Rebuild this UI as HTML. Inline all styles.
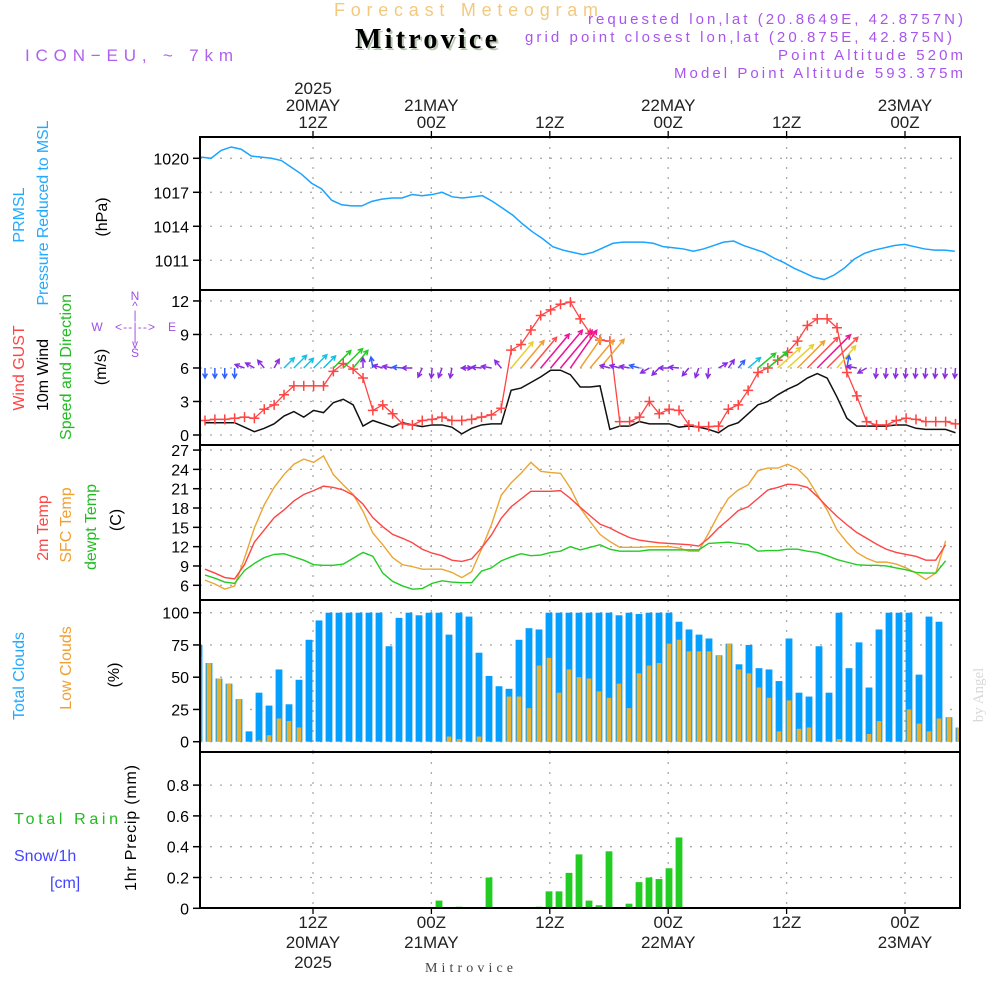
<!DOCTYPE html>
<html><head><meta charset="utf-8"><style>
html,body{margin:0;padding:0;background:#fff;}
svg{display:block;font-family:"Liberation Sans",sans-serif;}
</style></head><body>
<svg id="chart" width="1000" height="1000" viewBox="0 0 1000 1000" xmlns="http://www.w3.org/2000/svg">
<rect x="0" y="0" width="1000" height="1000" fill="#fff"/>
<text x="334" y="16" font-size="18" fill="#f3c97e" textLength="264" lengthAdjust="spacing">Forecast Meteogram</text>
<text x="357" y="50" font-size="28" font-weight="bold" font-family="Liberation Serif, serif" fill="#b8c8b0" textLength="142" lengthAdjust="spacing">Mitrovice</text>
<text x="355" y="48" font-size="28" font-weight="bold" font-family="Liberation Serif, serif" fill="#000" textLength="142" lengthAdjust="spacing">Mitrovice</text>
<text x="25" y="61" font-size="17" fill="#b060f0" textLength="208" lengthAdjust="spacing">ICON−EU, ~ 7km</text>
<g font-size="15" fill="#a855ee" text-anchor="end">
<text x="963" y="24" textLength="375" lengthAdjust="spacing">requested lon,lat (20.8649E, 42.8757N)</text>
<text x="952" y="42" textLength="427" lengthAdjust="spacing">grid point closest lon,lat (20.875E, 42.875N)</text>
<text x="963" y="60" textLength="185" lengthAdjust="spacing">Point Altitude 520m</text>
<text x="963" y="78" textLength="289" lengthAdjust="spacing">Model Point Altitude 593.375m</text>
</g>
<g font-size="16" text-anchor="middle">
<text transform="translate(24,215) rotate(-90)" fill="#22aaff">PRMSL</text>
<text transform="translate(48,213) rotate(-90)" fill="#22aaff" textLength="185" lengthAdjust="spacing">Pressure Reduced to MSL</text>
<text transform="translate(107,217) rotate(-90)" fill="#000">(hPa)</text>
<text transform="translate(24,368) rotate(-90)" fill="#ff4444">Wind GUST</text>
<text transform="translate(48,375) rotate(-90)" fill="#000">10m Wind</text>
<text transform="translate(71,367) rotate(-90)" fill="#22bb22" textLength="146" lengthAdjust="spacing">Speed and Direction</text>
<text transform="translate(106,367) rotate(-90)" fill="#000">(m/s)</text>
<text transform="translate(48,528) rotate(-90)" fill="#ff4444">2m Temp</text>
<text transform="translate(71,525) rotate(-90)" fill="#f0a030">SFC Temp</text>
<text transform="translate(96,527) rotate(-90)" fill="#22bb22">dewpt Temp</text>
<text transform="translate(121,520) rotate(-90)" fill="#000">(C)</text>
<text transform="translate(24,676) rotate(-90)" fill="#22aaff">Total Clouds</text>
<text transform="translate(71,668) rotate(-90)" fill="#f0a030">Low Clouds</text>
<text transform="translate(119,675) rotate(-90)" fill="#000">(%)</text>
<text transform="translate(136,828) rotate(-90)" fill="#000" textLength="126" lengthAdjust="spacing">1hr Precip (mm)</text>
</g>
<g font-size="16">
<text x="14" y="824" fill="#22bb22" textLength="104" lengthAdjust="spacing">Total  Rain</text>
<text x="14" y="861" fill="#4444ff">Snow/1h</text>
<text x="50" y="888" fill="#4444ff">[cm]</text>
</g>
<g font-size="12" fill="#a050e0" text-anchor="middle">
<text x="135" y="300">N</text><text x="135" y="310">^</text><text x="135" y="319">|</text>
<text x="97" y="331">W</text><text x="135" y="331" textLength="40" lengthAdjust="spacing">&lt;--|--&gt;</text><text x="172" y="331">E</text>
<text x="135" y="341">|</text><text x="135" y="348">v</text><text x="135" y="357">S</text>
</g>
<text transform="translate(983,695) rotate(-90)" font-size="15" font-family="Liberation Serif, serif" fill="#d8d8d8" text-anchor="middle">by Angel</text>
<text x="425" y="972" font-size="14" font-family="Liberation Serif, serif" fill="#444" textLength="88" lengthAdjust="spacing">Mitrovice</text>
<g id="layer"></g>
</svg>
<script>
// ---------- data ----------
const tickTopLines1 = ["2025", "", "", "", "", ""];
const tickTopLines2 = ["20MAY", "21MAY", "", "22MAY", "", "23MAY"];
const tickTopLines3 = ["12Z", "00Z", "12Z", "00Z", "12Z", "00Z"];
const tickBotLines1 = ["12Z", "00Z", "12Z", "00Z", "12Z", "00Z"];
const tickBotLines2 = ["20MAY", "21MAY", "", "22MAY", "", "23MAY"];
const tickBotLines3 = ["2025", "", "", "", "", ""];
const pressTicks = [1011, 1014, 1017, 1020];
const windTicks = [0, 3, 6, 9, 12];
const tempTicks = [6, 9, 12, 15, 18, 21, 24, 27];
const cloudTicks = [0, 25, 50, 75, 100];
const precipTicks = [0, 0.2, 0.4, 0.6, 0.8];
const pressure = [1020.1,1020.0,1020.7,1021.0,1020.8,1020.2,1020.1,1020.0,1019.8,1019.2,1018.6,1017.8,1017.3,1016.3,1015.9,1015.8,1015.8,1016.2,1016.4,1016.5,1016.5,1016.8,1016.7,1016.8,1017.0,1016.6,1016.5,1016.6,1016.7,1016.2,1015.6,1015.0,1014.2,1013.5,1012.9,1012.2,1011.9,1011.7,1011.5,1011.7,1012.1,1012.5,1012.6,1012.6,1012.6,1012.5,1012.2,1012.1,1012.0,1011.8,1012.0,1012.3,1012.6,1012.7,1012.3,1012.0,1011.7,1011.2,1010.8,1010.3,1009.9,1009.5,1009.3,1009.7,1010.3,1011.1,1011.6,1011.9,1012.1,1012.3,1012.4,1012.2,1012.0,1011.9,1011.9,1011.8];
const gust = [1.3,1.4,1.4,1.5,1.6,1.5,2.3,2.7,3.6,4.4,4.4,4.4,4.4,5.7,6.4,5.9,5.1,2.2,2.7,1.9,1.0,0.9,1.3,1.4,1.6,1.3,1.3,1.4,1.6,1.8,2.4,7.6,8.1,9.4,10.7,11.2,11.7,11.9,10.4,9.1,8.5,8.4,1.2,1.2,1.6,3.0,1.9,2.3,2.2,0.9,0.75,0.75,0.8,2.3,2.7,4.0,5.6,6.0,6.7,7.4,8.4,9.8,10.4,10.4,9.6,5.6,3.5,1.2,0.9,0.9,1.3,1.5,1.4,1.2,1.2,1.2,1.0];
const wind10 = [1.1,1.1,1.1,1.1,0.7,0.3,0.6,1.0,1.7,2.1,1.6,2.2,2.0,2.9,3.2,2.7,0.8,1.3,1.0,0.7,1.1,0.9,0.75,0.9,0.9,0.7,0.1,0.6,0.9,1.0,1.0,4.0,4.2,4.7,5.2,5.8,5.8,5.4,4.3,4.3,4.4,0.5,0.8,0.8,1.2,1.0,1.0,1.0,0.7,0.8,0.7,0.5,0.2,0.8,1.1,1.9,2.7,3.0,3.6,4.1,4.5,5.1,5.5,5.1,3.4,1.5,0.8,0.8,0.8,0.8,0.9,0.9,0.6,0.5,0.5,0.5,0.2];
const windDir = [-90,-90,-90,-90,160,150,130,60,45,45,45,45,45,45,45,50,90,100,165,170,175,180,-115,-95,-110,-100,0,180,175,170,130,50,50,50,50,50,50,55,55,50,50,165,165,170,165,-150,-135,180,175,-130,-110,-95,30,55,50,40,40,40,42,42,45,45,45,45,50,80,170,-150,-95,-95,-95,-95,-95,-95,-95,-95,-95];
const temp2m = [8.5,7.9,7.2,7.0,9.2,12.7,14.6,16.5,17.7,19.1,20.1,20.7,21.4,21.2,20.8,20.0,18.6,16.5,15.1,13.9,13.3,12.6,11.6,11.0,10.6,9.9,9.7,10.1,11.8,13.8,16.4,18.2,19.4,20.6,20.6,20.6,20.7,19.5,18.1,16.8,15.5,14.9,14.1,13.4,13.0,12.8,12.6,12.5,12.4,12.3,12.1,13.3,14.9,16.2,17.6,18.2,19.5,20.8,21.2,21.7,21.6,21.2,19.8,18.2,16.7,15.4,14.2,13.3,12.4,11.6,11.1,10.8,10.5,9.9,9.9,12.3];
const tempSfc = [6.8,6.2,5.4,5.9,10.2,14.9,18.5,21.2,23.2,24.8,25.6,25.1,26.1,23.2,21.6,20.1,17.5,14.1,12.3,10.3,9.2,8.9,8.5,8.5,8.5,8.0,7.2,8.1,11.6,15.4,20.0,21.9,23.4,25.1,23.7,23.5,23.4,21.1,18.0,15.9,13.9,12.8,11.9,11.9,11.9,12.0,12.0,12.0,11.8,11.3,11.3,14.1,17.0,19.5,20.8,21.6,23.8,24.2,24.2,24.8,24.1,22.6,20.1,17.7,14.6,12.7,11.1,10.2,9.6,9.6,9.3,8.7,7.9,6.9,7.9,12.9];
const dewpt = [7.6,7.1,6.5,6.3,8.3,9.4,10.3,10.8,10.9,10.4,9.9,9.2,9.1,9.1,9.3,10.2,11.1,10.5,7.9,6.6,5.9,5.4,5.5,6.3,6.7,6.5,6.4,6.4,8.2,8.7,9.8,10.4,10.9,10.6,10.7,11.1,11.3,12.0,11.5,11.9,12.3,11.6,11.3,11.3,11.3,11.5,11.5,11.5,11.5,11.5,11.5,12.5,12.6,12.7,12.5,12.3,11.3,11.4,11.4,11.6,11.6,11.3,11.1,10.6,10.0,9.6,9.2,9.1,9.1,9.0,8.7,8.4,8.0,7.9,7.9,9.8];
const totalClouds = [75,61,49,45,33,8,38,28,56,29,48,79,94,100,100,100,100,100,100,74,96,100,98,100,100,83,100,97,69,51,43,41,79,88,87,100,100,100,100,100,100,100,98,100,99,100,100,100,93,87,83,80,67,76,60,75,57,56,47,80,38,35,74,38,100,57,77,42,87,100,100,100,52,97,93,19,11];
const lowClouds = [66,61,49,45,33,0,1,5,18,16,11,0,0,0,0,0,0,0,0,0,0,0,0,0,0,4,2,0,4,0,0,35,35,26,59,65,38,56,50,49,39,34,45,26,53,59,61,76,79,70,70,70,67,76,56,53,42,34,8,32,10,11,0,0,2,0,0,6,16,0,0,25,14,8,18,19,11];
const precip = [0,0,0,0,0,0,0,0,0,0,0,0,0,0,0,0,0,0,0,0,0,0,0,0,0.05,0,0.01,0,0,0.2,0,0,0,0,0.01,0.11,0.11,0.23,0.35,0.05,0.02,0.37,0,0.03,0.17,0.2,0.19,0.26,0.46,0,0,0,0,0,0,0,0,0,0,0,0,0,0,0,0,0,0,0,0,0,0,0,0,0,0,0,0];

// ---------- scales ----------
const XL = 200, XR = 960;
const xTick = k => 313 + 118.4 * k;
const xBar = j => 199 + 10 * j;
const xLine = i => 205 + 9.875 * i;
const xPress = i => 201 + 10.05 * i;
const yP = v => 158.3 + (1020 - v) * 11.33;
const yW = v => 435 - v * 11.17;
const yT = v => 585.3 - (v - 6) * 6.44;
const yC = v => 741.7 - v * 1.29;
const yR = v => 908.3 - v * 154;
const panels = [
  {name:'pressure-panel', top:137, bot:290, ticks:pressTicks, y:yP, fmt:v=>String(v)},
  {name:'wind-panel', top:290, bot:445, ticks:windTicks, y:yW, fmt:v=>String(v)},
  {name:'temperature-panel', top:445, bot:600, ticks:tempTicks, y:yT, fmt:v=>String(v)},
  {name:'clouds-panel', top:600, bot:752, ticks:cloudTicks, y:yC, fmt:v=>String(v)},
  {name:'precip-panel', top:752, bot:908, ticks:precipTicks, y:yR, fmt:v=>v===0?'0':v.toFixed(1)}
];

const NS = 'http://www.w3.org/2000/svg';
const layer = document.getElementById('layer');
function mk(tag, attrs, parent) {
  const el = document.createElementNS(NS, tag);
  for (const k in attrs) el.setAttribute(k, attrs[k]);
  (parent || layer).appendChild(el);
  return el;
}
const defs = mk('defs', {});
panels.forEach((p, idx) => {
  const cp = mk('clipPath', {id: 'clip' + idx}, defs);
  mk('rect', {x: XL, y: p.top, width: XR - XL, height: p.bot - p.top}, cp);
});

panels.forEach((p, idx) => {
  const g = mk('g', {});
  
  
  p.ticks.forEach(v => {
    const y = p.y(v);
    const gl = mk('line', {x1: XL, x2: XR, y1: y, y2: y, stroke: '#aaa', 'stroke-width': 1.3, 'stroke-dasharray': '2 8'}, g);
    
    
    mk('line', {x1: 193, x2: XL, y1: y, y2: y, stroke: '#000', 'stroke-width': 1.5}, g);
    const t = mk('text', {x: 189, y: y + 6, 'font-size': 16, 'text-anchor': 'end', fill: '#000'}, g);
    
    
    t.textContent = p.fmt(v);
  });
  for (let k = 0; k < 6; k++) {
    const x = xTick(k);
    const vl = mk('line', {x1: x, x2: x, y1: p.top, y2: p.bot, stroke: '#aaa', 'stroke-width': 1.3, 'stroke-dasharray': '2 8'}, g);
    
    
  }
});

(function(){
  const pts = pressure.map((v, i) => xPress(i) + ',' + yP(v)).join(' ');
  const pl = mk('polyline', {points: pts, fill: 'none', stroke: '#1aa3ff', 'stroke-width': 1.5, 'clip-path': 'url(#clip0)'});
  
  
})();

(function(){
  const g = mk('g', {'clip-path': 'url(#clip1)'});
  
  
  const wl = mk('polyline', {points: wind10.map((v, i) => xLine(i) + ',' + yW(v)).join(' '), fill: 'none', stroke: '#111', 'stroke-width': 1.5}, g);
  
  
  const gl = mk('polyline', {points: gust.map((v, i) => xLine(i) + ',' + yW(v)).join(' '), fill: 'none', stroke: '#ff4444', 'stroke-width': 1.3}, g);
  
  
  gust.forEach((v, i) => {
    const x = xLine(i), y = yW(v);
    const m = mk('path', {d: `M${x-5},${y}H${x+5}M${x},${y-5}V${y+5}`, stroke: '#ff4444', 'stroke-width': 1.5}, g);
    
    
  });
  function col(s) {
    if (s < 1.1) return '#8a2be2';
    if (s < 1.6) return '#3060ff';
    if (s < 2.4) return '#18c0e0';
    if (s < 3.3) return '#22cc22';
    if (s < 4.2) return '#e8d030';
    if (s < 4.6) return '#f0a030';
    if (s < 5.2) return '#ff5050';
    return '#ee1199';
  }
  windDir.forEach((d, i) => {
    const s = wind10[i] !== undefined ? wind10[i] : 0.5;
    const len = Math.max(10, 8.5 * s);
    const a = d * Math.PI / 180;
    const x0 = xLine(i), y0 = yW(6);
    const x1 = x0 + len * Math.cos(a), y1 = y0 - len * Math.sin(a);
    const h = 5, b1 = a + Math.PI - 0.5, b2 = a + Math.PI + 0.5;
    const dpath = `M${x0},${y0}L${x1},${y1}M${x1 + h*Math.cos(b1)},${y1 - h*Math.sin(b1)}L${x1},${y1}L${x1 + h*Math.cos(b2)},${y1 - h*Math.sin(b2)}`;
    const ar = mk('path', {d: dpath, stroke: col(s), 'stroke-width': 1.5, fill: 'none'}, g);
    
    
  });
})();

(function(){
  const g = mk('g', {'clip-path': 'url(#clip2)'});
  
  
  const a = mk('polyline', {points: tempSfc.map((v, i) => xLine(i) + ',' + yT(v)).join(' '), fill: 'none', stroke: '#eba535', 'stroke-width': 1.4}, g);
  
  
  const b = mk('polyline', {points: temp2m.map((v, i) => xLine(i) + ',' + yT(v)).join(' '), fill: 'none', stroke: '#ff4444', 'stroke-width': 1.4}, g);
  
  
  const c = mk('polyline', {points: dewpt.map((v, i) => xLine(i) + ',' + yT(v)).join(' '), fill: 'none', stroke: '#22cc22', 'stroke-width': 1.4}, g);
  
  
})();

(function(){
  const g = mk('g', {'clip-path': 'url(#clip3)'});
  
  
  totalClouds.forEach((v, j) => {
    const r = mk('rect', {x: xBar(j) - 3.4, y: yC(v), width: 6.8, height: yC(0) - yC(v), fill: '#05a0ff'}, g);
    
    
  });
  lowClouds.forEach((v, j) => {
    const r = mk('rect', {x: xBar(j) - 2.3, y: yC(v), width: 4.6, height: yC(0) - yC(v), fill: '#e8b030'}, g);
    
    
  });
})();

(function(){
  const g = mk('g', {'clip-path': 'url(#clip4)'});
  
  
  precip.forEach((v, j) => {
    if (v <= 0) return;
    const r = mk('rect', {x: xBar(j) - 3.4, y: yR(v), width: 6.8, height: yR(0) - yR(v), fill: '#22cc22'}, g);
    
    
  });
  mk('line', {x1: XL, x2: XR, y1: yR(0), y2: yR(0), stroke: '#333', 'stroke-width': 2}, g);
})();

panels.forEach(p => {
  const f = mk('rect', {x: XL, y: p.top, width: XR - XL, height: p.bot - p.top, fill: 'none', stroke: '#000', 'stroke-width': 2});
  
  
});
for (let k = 0; k < 6; k++) {
  const x = xTick(k);
  mk('line', {x1: x, x2: x, y1: 131, y2: 137, stroke: '#000', 'stroke-width': 1.3});
  mk('line', {x1: x, x2: x, y1: 908, y2: 914, stroke: '#000', 'stroke-width': 1.3});
  [[tickTopLines1[k], 94], [tickTopLines2[k], 111], [tickTopLines3[k], 128], [tickBotLines1[k], 928], [tickBotLines2[k], 948], [tickBotLines3[k], 968]].forEach(([s, y]) => {
    if (!s) return;
    const t = mk('text', {x: x, y: y, 'font-size': 17, 'text-anchor': 'middle', fill: '#222'});
    
    
    t.textContent = s;
  });
}
</script>
</body></html>
